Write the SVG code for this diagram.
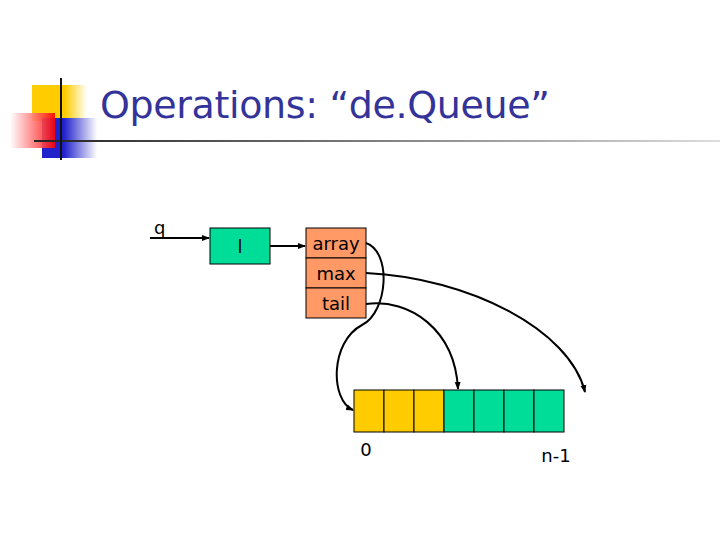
<svg xmlns="http://www.w3.org/2000/svg" width="720" height="540" viewBox="0 0 720 540">
<style>
.t{font-family:"DejaVu Sans","Liberation Sans",sans-serif;fill:#000}
.c{fill:none;stroke:#000;stroke-width:2}
.b{stroke:#000;stroke-width:1}
</style>
<defs>
<marker id="a" markerWidth="8" markerHeight="8" refX="7" refY="4" orient="auto" markerUnits="userSpaceOnUse"><path d="M0,1 L8,4 L0,7z" fill="#000"/></marker>
<linearGradient id="r" x1="0" x2="1"><stop offset="0" stop-color="#fff"/><stop offset="1" stop-color="#f00"/></linearGradient>
<linearGradient id="bl" x1="0" x2="1"><stop offset="0.4" stop-color="#2222cc"/><stop offset="1" stop-color="#fff"/></linearGradient>
<linearGradient id="y" x1="0" x2="1"><stop offset="0.6" stop-color="#ffcc00"/><stop offset="1" stop-color="#fff"/></linearGradient>
<linearGradient id="ln" x1="0" x2="1"><stop offset="0" stop-color="#222"/><stop offset="1" stop-color="#ddd"/></linearGradient>
</defs>
<g id="logo">
<rect x="32" y="85" width="55" height="36" fill="url(#y)"/>
<rect x="42" y="118" width="55" height="40" fill="url(#bl)"/>
<rect x="10" y="113" width="45" height="35" fill="url(#r)" opacity="0.9"/>
<rect x="34" y="140" width="686" height="2" fill="url(#ln)"/>
<rect x="60" y="78" width="2" height="82" fill="#111"/>
</g>
<text id="title" x="100" y="118" font-family="'DejaVu Sans','Liberation Sans',sans-serif" font-size="38" fill="#333399" textLength="450">Operations: “de.Queue”</text>
<g id="q"><text class="t" x="154" y="234" font-size="18">q</text></g>
<g id="l"><rect class="b" x="210" y="228" width="60" height="36" fill="#00DD99"/><text class="t" x="240" y="253" font-size="18" text-anchor="middle">l</text></g>
<g id="struct">
<rect class="b" x="306" y="228" width="60" height="30" fill="#FF9966"/>
<rect class="b" x="306" y="258" width="60" height="30" fill="#FF9966"/>
<rect class="b" x="306" y="288" width="60" height="30" fill="#FF9966"/>
<text class="t" x="336" y="250" font-size="18" text-anchor="middle">array</text>
<text class="t" x="336" y="280" font-size="18" text-anchor="middle">max</text>
<text class="t" x="336" y="310" font-size="18" text-anchor="middle">tail</text>
</g>
<g id="arr">
<rect class="b" x="354" y="390" width="30" height="42" fill="#FFCC00"/>
<rect class="b" x="384" y="390" width="30" height="42" fill="#FFCC00"/>
<rect class="b" x="414" y="390" width="30" height="42" fill="#FFCC00"/>
<rect class="b" x="444" y="390" width="30" height="42" fill="#00DD99"/>
<rect class="b" x="474" y="390" width="30" height="42" fill="#00DD99"/>
<rect class="b" x="504" y="390" width="30" height="42" fill="#00DD99"/>
<rect class="b" x="534" y="390" width="30" height="42" fill="#00DD99"/>
<text class="t" x="366" y="456" font-size="18" text-anchor="middle">0</text>
<text class="t" x="556" y="462" font-size="18" text-anchor="middle">n-1</text>
</g>
<g id="connectors">
<path class="c" d="M150,238 L209,238" marker-end="url(#a)"/>
<path class="c" d="M270,246 L305,246" marker-end="url(#a)"/>
<path class="c" d="M366,243 C392,252 388,312 362,325 C330,342 330,400 353,410" marker-end="url(#a)"/>
<path class="c" d="M366,273 C470,278 570,330 585,392" marker-end="url(#a)"/>
<path class="c" d="M366,304 C410,298 455,330 458,389" marker-end="url(#a)"/>
</g>
</svg>
